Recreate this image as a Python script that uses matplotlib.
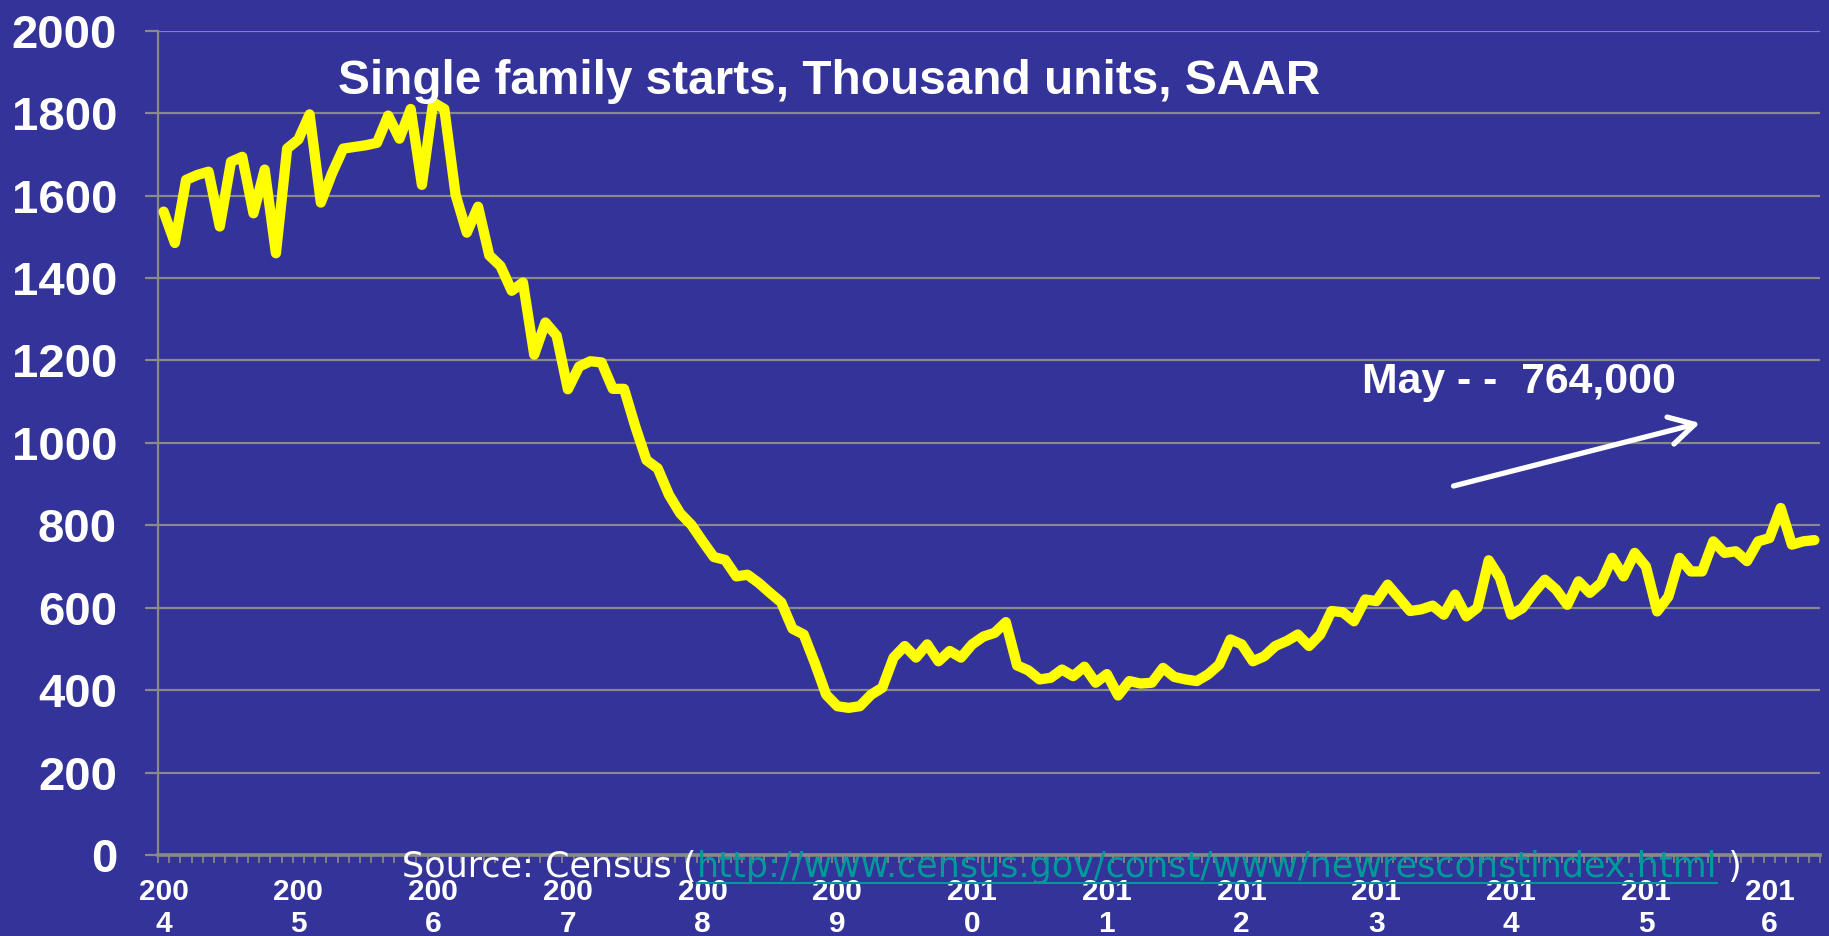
import matplotlib
matplotlib.use('Agg')
import matplotlib.pyplot as plt
from matplotlib.patches import FancyArrowPatch
from matplotlib.lines import Line2D
import numpy as np

# ---- data (single family starts, thousand units, SAAR, monthly) ----
starts = [
    1561, 1485, 1638, 1650, 1658, 1525, 1682, 1694, 1557, 1663, 1460, 1714,
    1736, 1797, 1583, 1654, 1714, 1718, 1722, 1728, 1794, 1738, 1810, 1626,
    1826, 1810, 1602, 1510, 1573, 1455, 1429, 1369, 1389, 1214, 1292, 1260,
    1130, 1185, 1198, 1195, 1131, 1131, 1040, 958, 938, 874, 829, 801,
    761, 723, 716, 676, 680, 660, 636, 613, 549, 535, 465, 389,
    361, 357, 361, 389, 406, 479, 507, 479, 511, 470, 495, 479,
    511, 530, 539, 565, 460, 448, 426, 430, 450, 434, 457, 418,
    439, 387, 422, 416, 418, 454, 432, 426, 422, 438, 462, 523,
    511, 470, 482, 507, 519, 535, 507, 535, 592, 589, 567, 620,
    616, 656, 624, 592, 596, 605, 583, 632, 579, 600, 715, 672,
    583, 599, 636, 668, 644, 607, 664, 636, 660, 721, 676, 733,
    700, 591, 627, 721, 688, 688, 761, 733, 737, 713, 761, 769,
    842, 753, 761, 764,
]
year_labels = ['200\n4', '200\n5', '200\n6', '200\n7', '200\n8', '200\n9',
               '201\n0', '201\n1', '201\n2', '201\n3', '201\n4', '201\n5',
               '201\n6']
label_months = [0, 12, 24, 36, 48, 60, 72, 84, 96, 108, 120, 132, 143]
y_ticks = list(range(0, 2001, 200))
title = 'Single family starts, Thousand units, SAAR'
note = 'May - -  764,000'
src_a = 'Source: Census ('
src_url = 'http://www.census.gov/const/www/newresconstindex.html'
src_b = ' )'

# ---- style ----
BG = '#333399'
GRID = '#8a8a8a'
YEL = '#FFFF00'
W, H, DPI = 1829, 936, 100
FONT = 'Liberation Sans'

fig = plt.figure(figsize=(W / DPI, H / DPI), dpi=DPI, facecolor=BG)
ax = fig.add_axes([158 / W, (H - 855) / H, 1662 / W, (855 - 30.7) / H])
ax.set_facecolor(BG)

x = np.arange(len(starts))
ax.plot(x, starts, color=YEL, lw=7.4, solid_joinstyle='round',
        solid_capstyle='round', zorder=3, clip_on=False)

ax.set_xlim(-0.5, len(starts) - 0.5)
ax.set_ylim(0, 2000)

ax.set_yticks(y_ticks)
ax.set_yticklabels([str(v) for v in y_ticks], fontsize=34, fontweight='bold',
                   family=FONT, color='white')
ax.grid(axis='y', color=GRID, lw=1.6)
ax.set_axisbelow(True)

for s in ['top', 'right']:
    ax.spines[s].set_visible(False)
ax.spines['left'].set_color(GRID)
ax.spines['left'].set_linewidth(1.6)
ax.spines['bottom'].set_color(GRID)
ax.spines['bottom'].set_linewidth(2.6)

ax.tick_params(axis='y', direction='out', length=9.5, width=1.6, color=GRID,
               pad=20)

ax.set_xticks(label_months)
ax.set_xticklabels(year_labels, fontsize=21.5, fontweight='bold', family=FONT,
                   color='white', linespacing=1.17)
ax.set_xticks(np.arange(-0.5, len(starts)), minor=True)
ax.tick_params(axis='x', which='major', length=0, pad=16.5)
ax.tick_params(axis='x', which='minor', direction='out', length=5.8,
               width=1.2, color=GRID)

# title and annotation
fig.text(338 / W, 1 - 94 / H, title, fontsize=34.4, fontweight='bold',
         family=FONT, color='white', ha='left', va='baseline')
fig.text(1362 / W, 1 - 393 / H, note, fontsize=30.8, fontweight='bold',
         family=FONT, color='white', ha='left', va='baseline')
arrow = FancyArrowPatch(posA=(1453.5 / W, 1 - 486 / H),
                        posB=(1700 / W, 1 - 423 / H),
                        transform=fig.transFigure,
                        arrowstyle='->,head_length=0.9,head_width=0.5',
                        mutation_scale=20, lw=3.8, color='white',
                        shrinkA=0, shrinkB=0, capstyle='round')
fig.add_artist(arrow)

# source line, fitted to the reference width
renderer = fig.canvas.get_renderer()
x0, x1, base = 402, 1742, 877
SRC_FONT = 'DejaVu Sans'


def build(fs):
    ta = fig.text(x0 / W, 1 - base / H, src_a, fontsize=fs, family=SRC_FONT,
                  color='white', ha='left', va='baseline', zorder=5)
    ba = ta.get_window_extent(renderer)
    tu = fig.text(ba.x1 / W, 1 - base / H, src_url, fontsize=fs,
                  family=SRC_FONT, color='#009999', ha='left',
                  va='baseline', zorder=5)
    bu = tu.get_window_extent(renderer)
    tb = fig.text(bu.x1 / W, 1 - base / H, src_b, fontsize=fs,
                  family=SRC_FONT, color='white', ha='left', va='baseline',
                  zorder=5)
    bb = tb.get_window_extent(renderer)
    return (ta, tu, tb), bu, bb.x1


texts, bu, xend = build(20)
scale = (x1 - x0) / (xend - x0)
for t in texts:
    t.remove()
fs = min(20 * scale, 27)
texts, bu, xend = build(fs)
ul_y = 1 - 883 / H
fig.add_artist(Line2D([bu.x0 / W, bu.x1 / W], [ul_y, ul_y],
                      transform=fig.transFigure, color='#009999', lw=1.5,
                      zorder=5))

fig.savefig('out.png', dpi=DPI, facecolor=BG)
